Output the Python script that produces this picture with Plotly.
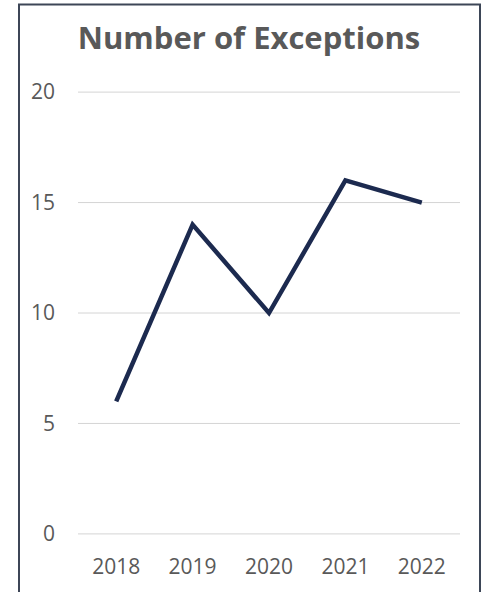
import plotly.graph_objects as go

# Chart data
years = ["2018", "2019", "2020", "2021", "2022"]
exceptions = [6, 14, 10, 16, 15]
y_ticks = [0, 5, 10, 15, 20]

W, H = 485, 592
ML, MR, MT, MB = 78, 25, 91, 54
plot_w = W - ML - MR
plot_h = H - MT - MB


def px_x(px):
    return (px - ML) / plot_w


def px_y(py):
    return (H - MB - py) / plot_h


fig = go.Figure(
    go.Scatter(
        x=years,
        y=exceptions,
        mode="lines",
        line=dict(color="#1c2a4f", width=4.5),
        hoverinfo="x+y",
    )
)

font_family = "Open Sans, Noto Sans, sans-serif"
text_color = "#595959"
grid_color = "#d4d4d4"

# horizontal gridlines at each y tick, including both range edges
grid_shapes = [
    dict(type="line", xref="paper", yref="y", x0=0, x1=1, y0=v, y1=v,
         line=dict(color=grid_color, width=1), layer="below")
    for v in y_ticks
]

fig.update_layout(
    width=W,
    height=H,
    margin=dict(l=ML, r=MR, t=MT, b=MB),
    paper_bgcolor="white",
    plot_bgcolor="white",
    showlegend=False,
    title=dict(
        text="<b>Number of Exceptions</b>",
        x=249 / W,
        xanchor="center",
        y=1 - 38 / H,
        yanchor="middle",
        font=dict(family=font_family, size=31, color=text_color),
    ),
    xaxis=dict(
        type="category",
        range=[-0.5, 4.5],
        showgrid=False,
        zeroline=False,
        showline=False,
        ticks="",
        ticklabelstandoff=17,
        tickfont=dict(family=font_family, size=21, color=text_color),
    ),
    yaxis=dict(
        range=[-0.05, 20.05],
        tickvals=y_ticks,
        ticktext=[str(v) for v in y_ticks],
        showgrid=False,
        zeroline=False,
        showline=False,
        ticks="",
        ticklabelstandoff=22,
        tickfont=dict(family=font_family, size=21, color=text_color),
    ),
    shapes=grid_shapes + [
        # frame around the chart
        dict(type="rect", xref="paper", yref="paper",
             x0=px_x(19), x1=px_x(480), y0=px_y(4), y1=px_y(605),
             line=dict(color="#3d4657", width=2), fillcolor="rgba(0,0,0,0)"),
    ],
)

fig.write_html("out.html")
